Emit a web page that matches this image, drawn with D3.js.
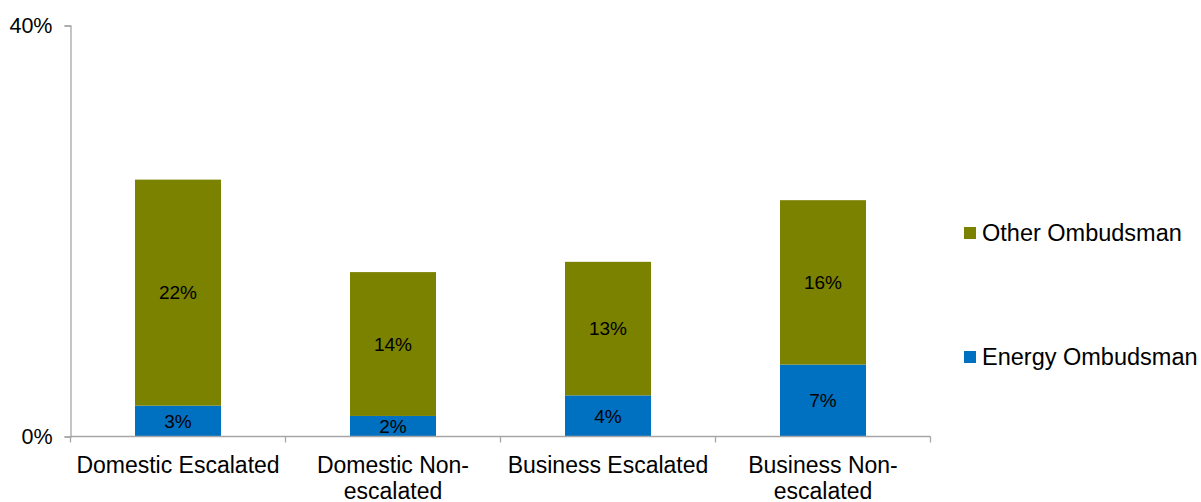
<!DOCTYPE html>
<html>
<head>
<meta charset="utf-8">
<script src="https://cdn.jsdelivr.net/npm/d3@7"></script>
<style>
  html, body { margin: 0; padding: 0; background: #fff; }
  svg { display: block; font-family: "Liberation Sans", Arial, sans-serif; }
</style>
</head>
<body>
<svg id="chart" width="1201" height="502"></svg>
<script>
const categories = ["Domestic Escalated", "Domestic Non-escalated", "Business Escalated", "Business Non-escalated"];
const energyOmbudsman = [3, 2, 4, 7];
const otherOmbudsman = [22, 14, 13, 16];
const seriesNames = ["Energy Ombudsman", "Other Ombudsman"];
const yTicks = [0, 40];

const colors = { "Energy Ombudsman": "#0070C0", "Other Ombudsman": "#7A8200" };

const svg = d3.select("#chart");
const plot = { left: 70.5, right: 930.5, top: 25.5, bottom: 436.5 };

const table = categories.map((c, i) => ({
  category: c,
  "Energy Ombudsman": energyOmbudsman[i],
  "Other Ombudsman": otherOmbudsman[i]
}));

const x = d3.scaleBand().domain(categories).range([plot.left, plot.right])
  .paddingInner(0.6).paddingOuter(0.3);
const y = d3.scaleLinear().domain([0, 40]).range([plot.bottom, plot.top]);

const stack = d3.stack().keys(seriesNames);
const layers = stack(table);

const g = svg.append("g");
layers.forEach(layer => {
  const key = layer.key;
  g.selectAll(null).data(layer).enter().append("rect")
    .attr("x", d => x(d.data.category))
    .attr("width", x.bandwidth())
    .attr("y", d => y(d[1]))
    .attr("height", d => y(d[0]) - y(d[1]))
    .attr("fill", colors[key]);
  g.selectAll(null).data(layer).enter().append("text")
    .attr("x", d => x(d.data.category) + x.bandwidth() / 2)
    .attr("y", d => (y(d[0]) + y(d[1])) / 2)
    .attr("dy", "0.36em")
    .attr("text-anchor", "middle")
    .attr("font-size", 19)
    .attr("fill", "#000")
    .text(d => d3.format(".0f")(d.data[key]) + "%");
});

// Y axis
const yAxis = svg.append("g").attr("transform", `translate(${plot.left},0)`)
  .call(d3.axisLeft(y).tickValues(yTicks).tickSize(6).tickPadding(12).tickFormat(d => d + "%"));
yAxis.select(".domain").attr("stroke", "#A6A6A6").attr("stroke-width", 1.3);
yAxis.selectAll(".tick line").attr("stroke", "#A6A6A6").attr("stroke-width", 1.3);
yAxis.selectAll("text").attr("font-size", 21.5).attr("fill", "#000")
  .attr("font-family", "Liberation Sans, Arial, sans-serif");

// X axis
const xAxisG = svg.append("g").attr("transform", `translate(0,${plot.bottom})`);
xAxisG.append("line").attr("x1", plot.left).attr("x2", plot.right)
  .attr("stroke", "#A6A6A6").attr("stroke-width", 1.3);
const step = x.step();
const boundaries = d3.range(categories.length + 1).map(i => plot.left + i * step);
xAxisG.selectAll(null).data(boundaries).enter().append("line")
  .attr("x1", d => d).attr("x2", d => d).attr("y1", 0).attr("y2", 6)
  .attr("stroke", "#A6A6A6").attr("stroke-width", 1.3);

function splitWords(s) {
  return s.split(" ").flatMap(w => w.split(/(?<=-)/));
}
const xFont = 23;
categories.forEach(c => {
  const cx = x(c) + x.bandwidth() / 2;
  const t = xAxisG.append("text").attr("text-anchor", "middle").attr("font-size", xFont)
    .attr("fill", "#000").attr("x", cx).attr("y", 36);
  const words = splitWords(c);
  const lines = [];
  let cur = "";
  const meas = xAxisG.append("text").attr("font-size", xFont).attr("visibility", "hidden");
  words.forEach(w => {
    const cand = cur === "" ? w : (cur.endsWith("-") ? cur + w : cur + " " + w);
    meas.text(cand);
    if (cur !== "" && meas.node().getComputedTextLength() > step) {
      lines.push(cur);
      cur = w;
    } else cur = cand;
  });
  lines.push(cur);
  meas.remove();
  lines.forEach((ln, i) => {
    t.append("tspan").attr("x", cx).attr("dy", i === 0 ? 0 : 26).text(ln);
  });
});

// Legend
const legendItems = ["Other Ombudsman", "Energy Ombudsman"];
const legendY = [233, 357];
const legend = svg.append("g");
legendItems.forEach((name, i) => {
  legend.append("rect").attr("x", 964).attr("y", legendY[i] - 6).attr("width", 12).attr("height", 12)
    .attr("fill", colors[name]);
  legend.append("text").attr("x", 982).attr("y", legendY[i]).attr("dy", "0.36em")
    .attr("font-size", 23.5).attr("fill", "#000").text(name);
});
</script>
</body>
</html>
